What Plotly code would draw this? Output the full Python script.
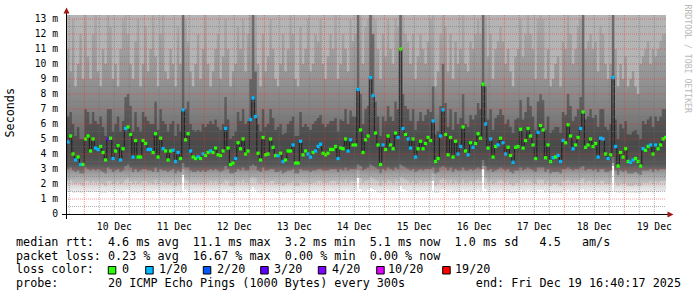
import pandas as pd
import plotly.graph_objects as go

# ---------------- data (hourly consolidated) ----------------
START = "2025-12-09 17:00"
X_RANGE = ["2025-12-09 16:40:17", "2025-12-19 16:40:17"]

median_ms = [
    4.8, 5.2, 4.0, 3.6, 3.8, 3.3, 3.3, 5.0, 5.2, 4.2,
    5.0, 4.4, 4.3, 4.5, 4.1, 3.6, 5.0, 5.05, 3.7, 4.2,
    4.55, 3.6, 4.35, 5.7, 5.8, 5.3, 3.8, 4.9, 3.8, 3.8,
    4.9, 4.7, 4.3, 4.3, 4.1, 5.35, 3.8, 5.05, 4.35, 4.2,
    3.6, 4.2, 4.25, 3.5, 4.1, 3.7, 6.95, 4.95, 5.35, 4.2,
    3.8, 3.7, 3.8, 3.7, 4.0, 3.9, 4.1, 4.2, 4.1, 4.4,
    3.95, 3.9, 4.2, 5.7, 4.4, 3.3, 3.4, 3.7, 4.75, 4.35,
    5.0, 4.0, 4.2, 6.3, 7.73, 6.5, 4.05, 3.6, 5.1, 3.95,
    4.0, 5.0, 4.45, 3.9, 3.9, 4.05, 3.5, 3.6, 4.2, 4.2,
    4.6, 3.4, 3.4, 4.85, 3.95, 4.2, 4.0, 3.8, 4.1, 4.2,
    4.5, 4.65, 4.05, 3.95, 4.05, 4.3, 4.3, 4.5, 3.7, 4.4,
    4.35, 5.0, 4.2, 4.95, 4.6, 4.6, 8.3, 5.6, 4.1, 4.95,
    5.2, 9.1, 7.9, 5.4, 4.6, 3.3, 4.6, 4.3, 5.2, 4.6,
    4.35, 5.4, 5.1, 11.0, 5.7, 5.3, 5.0, 4.4, 5.0, 3.8,
    4.35, 4.85, 4.35, 4.7, 5.1, 4.9, 6.2, 3.5, 3.7, 5.2,
    6.95, 5.3, 3.95, 5.1, 3.8, 4.85, 4.0, 4.5, 5.8, 4.2,
    3.95, 4.75, 4.45, 4.7, 5.35, 5.05, 8.65, 6.0, 4.4, 5.0,
    3.8, 4.5, 4.6, 5.05, 4.75, 4.0, 4.45, 3.9, 3.45, 4.45,
    4.5, 5.65, 4.4, 4.9, 5.7, 5.2, 4.6, 3.7, 5.45, 5.9,
    5.6, 3.75, 4.6, 3.5, 3.75, 3.8, 3.9, 3.5, 4.9, 4.75,
    5.95, 5.2, 4.35, 4.6, 5.1, 5.7, 6.8, 4.45, 4.6, 5.0,
    4.5, 4.7, 3.8, 5.05, 5.0, 4.0, 3.7, 3.95, 9.1, 4.5,
    3.2, 4.1, 3.8, 4.35, 3.5, 3.45, 3.6, 3.7, 3.5, 3.2,
    4.35, 4.25, 4.5, 4.6, 4.0, 4.6, 4.35, 4.6, 5.0, 5.1,
]

loss_of_20 = [
    1, 0, 0, 1, 0, 1, 0, 0, 0, 0, 0, 1, 1, 0, 0, 0, 3, 0, 1, 0,
    0, 1, 0, 1, 0, 0, 1, 0, 0, 0, 0, 0, 1, 1, 0, 0, 0, 0, 1, 0,
    0, 0, 1, 1, 1, 0, 1, 0, 0, 1, 0, 0, 1, 0, 1, 0, 0, 1, 0, 0,
    0, 0, 0, 1, 0, 0, 0, 1, 0, 0, 0, 0, 0, 1, 1, 1, 0, 0, 0, 0,
    0, 0, 0, 0, 1, 0, 1, 0, 0, 0, 1, 0, 0, 1, 0, 0, 1, 1, 0, 1,
    1, 1, 0, 0, 0, 0, 0, 0, 1, 0, 0, 0, 1, 1, 0, 0, 1, 0, 0, 0,
    0, 1, 1, 0, 0, 0, 1, 0, 0, 0, 0, 0, 1, 0, 1, 0, 1, 1, 0, 1,
    0, 0, 0, 0, 0, 0, 1, 0, 0, 1, 1, 0, 0, 0, 0, 0, 1, 1, 0, 0,
    1, 0, 1, 0, 0, 0, 0, 1, 0, 1, 0, 0, 1, 0, 1, 1, 0, 0, 1, 0,
    0, 0, 0, 0, 0, 0, 0, 0, 1, 0, 0, 0, 0, 0, 1, 0, 1, 1, 1, 0,
    0, 0, 1, 0, 0, 1, 0, 0, 0, 0, 0, 0, 1, 1, 1, 0, 1, 0, 1, 1,
    0, 0, 0, 0, 0, 1, 1, 0, 0, 0, 1, 0, 0, 1, 0, 1, 0, 0, 0, 0,
]

# smoke: per-hour ping distribution (ms)
ping_min_ms = [
    1.5, 1.55, 1.45, 1.4, 1.5, 1.45, 1.4, 1.55, 1.5, 1.5,
    1.55, 1.5, 1.5, 1.45, 1.45, 1.4, 1.55, 1.5, 1.45, 1.5,
    1.5, 1.45, 1.5, 1.6, 1.65, 1.55, 1.45, 1.5, 1.45, 1.5,
    1.55, 1.5, 1.5, 1.5, 1.45, 1.6, 1.45, 1.55, 1.5, 1.5,
    1.45, 1.5, 1.5, 1.4, 1.5, 1.45, 2.6, 1.6, 1.55, 1.5,
    1.45, 1.45, 1.5, 1.45, 1.5, 1.45, 1.5, 1.55, 1.5, 1.5,
    1.5, 1.45, 1.5, 1.6, 1.5, 1.4, 1.4, 1.45, 1.55, 1.5,
    1.55, 1.5, 1.5, 1.65, 1.8, 1.65, 1.5, 1.45, 1.55, 1.5,
    1.5, 1.55, 1.5, 1.45, 1.45, 1.5, 1.4, 1.45, 1.5, 1.5,
    1.55, 1.4, 1.4, 1.55, 1.5, 1.5, 1.5, 1.45, 1.5, 1.5,
    1.55, 1.55, 1.5, 1.5, 1.5, 1.5, 1.5, 1.55, 1.45, 1.5,
    1.5, 1.6, 1.5, 1.55, 1.5, 1.55, 2.4, 1.7, 1.5, 1.55,
    1.6, 1.75, 1.7, 1.6, 1.5, 1.4, 1.5, 1.5, 1.6, 1.5,
    1.5, 1.6, 1.55, 1.9, 1.7, 1.6, 1.55, 1.5, 1.55, 1.45,
    1.5, 1.55, 1.5, 1.55, 1.55, 1.55, 2.2, 1.4, 1.45, 1.6,
    1.7, 1.6, 1.5, 1.6, 1.45, 1.55, 1.5, 1.5, 1.6, 1.5,
    1.5, 1.55, 1.5, 1.55, 1.6, 1.55, 3.0, 1.7, 1.5, 1.55,
    1.45, 1.5, 1.55, 1.6, 1.55, 1.5, 1.55, 1.45, 1.4, 1.5,
    1.5, 1.6, 1.5, 1.55, 1.6, 1.55, 1.5, 1.45, 1.6, 1.6,
    1.6, 1.45, 1.55, 1.4, 1.45, 1.45, 1.45, 1.4, 1.55, 1.55,
    1.6, 1.55, 1.5, 1.55, 1.55, 1.6, 1.7, 1.5, 1.55, 1.55,
    1.5, 1.55, 1.45, 1.55, 1.55, 1.45, 1.45, 1.5, 3.2, 1.5,
    1.4, 1.5, 1.45, 1.5, 1.4, 1.4, 1.4, 1.45, 1.4, 1.4,
    1.5, 1.5, 1.5, 1.55, 1.45, 1.55, 1.5, 1.55, 1.55, 1.55,
]

ping_p10_ms = [
    2.2, 2.3, 2.1, 2.0, 2.1, 2.0, 1.9, 2.2, 2.2, 2.1,
    2.2, 2.1, 2.2, 2.1, 2.0, 1.9, 2.2, 2.2, 2.0, 2.1,
    2.2, 2.0, 2.1, 2.3, 2.4, 2.2, 2.0, 2.2, 2.0, 2.1,
    2.2, 2.2, 2.1, 2.1, 2.0, 2.3, 2.0, 2.2, 2.1, 2.1,
    2.0, 2.1, 2.2, 1.9, 2.1, 2.0, 3.0, 2.3, 2.2, 2.1,
    2.0, 2.0, 2.1, 2.0, 2.1, 2.0, 2.1, 2.2, 2.1, 2.2,
    2.1, 2.0, 2.1, 2.3, 2.2, 1.9, 1.9, 2.0, 2.2, 2.1,
    2.3, 2.1, 2.1, 2.4, 2.5, 2.4, 2.1, 2.0, 2.3, 2.1,
    2.1, 2.2, 2.2, 2.0, 2.0, 2.1, 1.9, 2.0, 2.1, 2.1,
    2.2, 1.9, 1.9, 2.2, 2.1, 2.1, 2.1, 2.0, 2.1, 2.1,
    2.2, 2.2, 2.1, 2.1, 2.1, 2.2, 2.2, 2.2, 2.0, 2.2,
    2.1, 2.3, 2.1, 2.2, 2.2, 2.2, 2.9, 2.4, 2.1, 2.2,
    2.3, 2.5, 2.4, 2.3, 2.2, 1.9, 2.2, 2.1, 2.3, 2.2,
    2.1, 2.3, 2.2, 2.5, 2.4, 2.3, 2.2, 2.1, 2.2, 2.0,
    2.1, 2.2, 2.1, 2.2, 2.2, 2.2, 2.7, 1.9, 2.0, 2.3,
    2.4, 2.3, 2.1, 2.3, 2.0, 2.2, 2.1, 2.1, 2.3, 2.1,
    2.1, 2.2, 2.1, 2.2, 2.3, 2.2, 3.2, 2.4, 2.1, 2.2,
    2.0, 2.1, 2.2, 2.3, 2.2, 2.1, 2.2, 2.0, 1.9, 2.1,
    2.1, 2.3, 2.1, 2.2, 2.3, 2.2, 2.1, 2.0, 2.3, 2.3,
    2.3, 2.0, 2.2, 1.9, 2.0, 2.0, 2.0, 1.9, 2.2, 2.2,
    2.3, 2.2, 2.1, 2.2, 2.2, 2.3, 2.4, 2.1, 2.2, 2.2,
    2.1, 2.2, 2.0, 2.2, 2.2, 2.0, 2.0, 2.1, 3.4, 2.1,
    1.9, 2.1, 2.0, 2.1, 1.9, 1.9, 1.9, 2.0, 1.9, 1.9,
    2.1, 2.1, 2.1, 2.2, 2.0, 2.2, 2.1, 2.2, 2.2, 2.2,
]

ping_p25_ms = [
    3.0, 3.1, 2.9, 2.8, 2.9, 2.7, 2.7, 3.1, 3.0, 2.9,
    3.0, 2.9, 3.0, 2.9, 2.8, 2.7, 3.1, 3.0, 2.8, 2.9,
    3.0, 2.8, 2.9, 3.2, 3.3, 3.1, 2.8, 3.0, 2.8, 2.9,
    3.0, 3.0, 2.9, 2.9, 2.8, 3.1, 2.8, 3.0, 2.9, 2.9,
    2.8, 2.9, 3.0, 2.7, 2.9, 2.8, 3.4, 3.1, 3.1, 2.9,
    2.8, 2.8, 2.9, 2.8, 2.9, 2.8, 2.9, 3.0, 2.9, 3.0,
    2.9, 2.8, 2.9, 3.2, 3.0, 2.7, 2.7, 2.8, 3.0, 2.9,
    3.1, 2.9, 2.9, 3.2, 3.3, 3.2, 2.9, 2.8, 3.1, 2.9,
    2.9, 3.0, 3.0, 2.8, 2.8, 2.9, 2.7, 2.8, 2.9, 2.9,
    3.0, 2.7, 2.7, 3.0, 2.9, 2.9, 2.9, 2.8, 2.9, 2.9,
    3.0, 3.0, 2.9, 2.9, 2.9, 3.0, 3.0, 3.0, 2.8, 3.0,
    2.9, 3.1, 2.9, 3.0, 3.0, 3.0, 3.3, 3.2, 2.9, 3.0,
    3.1, 3.3, 3.2, 3.1, 3.0, 2.7, 3.0, 2.9, 3.1, 3.0,
    2.9, 3.1, 3.0, 3.3, 3.2, 3.1, 3.0, 2.9, 3.0, 2.8,
    2.9, 3.0, 2.9, 3.0, 3.0, 3.0, 3.1, 2.7, 2.8, 3.1,
    3.2, 3.1, 2.9, 3.1, 2.8, 3.0, 2.9, 2.9, 3.1, 2.9,
    2.9, 3.0, 2.9, 3.0, 3.1, 3.0, 3.6, 3.2, 2.9, 3.0,
    2.8, 2.9, 3.0, 3.1, 3.0, 2.9, 3.0, 2.8, 2.7, 2.9,
    2.9, 3.1, 2.9, 3.0, 3.1, 3.0, 2.9, 2.8, 3.1, 3.1,
    3.1, 2.8, 3.0, 2.7, 2.8, 2.8, 2.8, 2.7, 3.0, 3.0,
    3.1, 3.0, 2.9, 3.0, 3.0, 3.1, 3.2, 2.9, 3.0, 3.0,
    2.9, 3.0, 2.8, 3.0, 3.0, 2.8, 2.8, 2.9, 3.8, 2.9,
    2.6, 2.9, 2.8, 2.9, 2.7, 2.7, 2.7, 2.8, 2.7, 2.6,
    2.9, 2.9, 2.9, 3.0, 2.8, 3.0, 2.9, 3.0, 3.0, 3.0,
]

ping_p75_ms = [
    6.5, 6.8, 6.0, 5.2, 5.8, 5.0, 5.0, 7.0, 6.8, 6.0,
    6.8, 6.2, 6.0, 6.5, 5.8, 5.2, 7.0, 7.0, 5.5, 6.0,
    6.5, 5.5, 6.2, 7.8, 8.0, 7.2, 5.5, 6.8, 5.8, 5.5,
    6.8, 6.5, 6.2, 6.0, 6.0, 7.5, 5.6, 7.0, 6.2, 6.0,
    5.5, 6.0, 6.2, 5.2, 6.0, 5.5, 14.0, 7.0, 7.5, 6.0,
    5.6, 5.5, 5.6, 5.5, 6.0, 5.8, 6.0, 6.2, 6.0, 6.3,
    5.8, 5.6, 6.0, 7.8, 6.3, 5.0, 5.2, 5.5, 6.8, 6.2,
    7.0, 6.0, 6.2, 9.0, 14.0, 9.5, 6.0, 5.5, 7.0, 5.8,
    6.0, 7.0, 6.4, 5.6, 5.8, 6.0, 5.3, 5.4, 6.0, 6.2,
    6.5, 5.2, 5.2, 6.8, 5.8, 6.0, 5.8, 5.6, 6.0, 6.2,
    6.4, 6.6, 6.0, 5.8, 6.0, 6.2, 6.2, 6.4, 5.5, 6.3,
    6.2, 7.0, 6.0, 6.9, 6.5, 6.5, 14.0, 8.0, 6.0, 7.0,
    7.2, 14.0, 12.0, 7.5, 6.5, 5.2, 6.5, 6.2, 7.2, 6.5,
    6.2, 7.5, 7.0, 14.0, 8.0, 7.2, 7.0, 6.2, 7.0, 5.6,
    6.2, 6.8, 6.2, 6.6, 7.0, 6.8, 8.5, 5.3, 5.5, 7.2,
    10.0, 7.4, 5.8, 7.0, 5.6, 6.8, 6.0, 6.4, 8.0, 6.0,
    5.8, 6.6, 6.3, 6.6, 7.4, 7.0, 14.0, 8.5, 6.3, 7.0,
    5.6, 6.4, 6.6, 7.0, 6.6, 6.0, 6.3, 5.8, 5.4, 6.3,
    6.4, 7.6, 6.3, 6.8, 7.8, 7.2, 6.5, 5.6, 7.5, 8.0,
    7.6, 5.6, 6.5, 5.4, 5.6, 5.8, 5.8, 5.4, 6.8, 6.6,
    8.0, 7.2, 6.2, 6.5, 7.0, 7.8, 14.0, 6.3, 6.5, 7.0,
    6.4, 6.6, 5.8, 7.0, 7.0, 5.8, 5.6, 6.0, 14.0, 6.3,
    5.0, 6.0, 5.7, 6.2, 5.3, 5.3, 5.5, 5.6, 5.3, 5.0,
    6.2, 6.0, 6.3, 6.5, 5.8, 6.5, 6.2, 6.5, 7.0, 7.0,
]

ping_p90_ms = [
    11, 9.5, 13, 8.5, 10, 12, 9, 14, 10.5, 9,
    12, 13.5, 9.5, 8.5, 11, 10, 14, 12.5, 9, 10,
    8.5, 11, 13, 15, 12, 10, 9, 11.5, 13, 8.5,
    10, 12.5, 9.5, 11, 14, 10.5, 8.5, 12, 13.5, 9.5,
    9, 11, 10, 8.5, 12.5, 10, 16, 13, 11.5, 9.5,
    8.5, 10, 12, 9, 11, 13.5, 10, 8.5, 9.5, 11,
    12, 9, 10.5, 13, 11, 8.5, 9.5, 10, 12.5, 11,
    13, 9.5, 12, 15, 16, 15, 10, 8.5, 12, 9.5,
    10.5, 13, 11, 9, 8.5, 10, 12, 9.5, 11, 13.5,
    12, 9, 8.5, 12.5, 10, 11, 13, 9.5, 10, 12,
    11.5, 13, 10, 9, 10.5, 12, 11, 13.5, 9, 10,
    12, 11, 9.5, 13, 11.5, 12, 16, 14, 10, 12.5,
    13, 16, 16, 13, 11, 9, 12, 10.5, 13, 11,
    10, 13, 12.5, 16, 14, 12, 11.5, 10, 12, 9,
    10.5, 12, 11, 10, 11.5, 13, 14, 8.5, 9.5, 12,
    15, 12.5, 9.5, 12, 9, 11.5, 10, 11, 13.5, 10,
    9.5, 11.5, 11, 12, 13, 12, 16, 14, 10.5, 12,
    9, 11, 11.5, 12.5, 11.5, 10, 11, 9.5, 8.5, 10.5,
    11, 13, 10.5, 12, 13.5, 12, 11, 9, 13, 13.5,
    13, 9, 11, 8.5, 9, 10, 10.5, 8.5, 11.5, 11,
    13.5, 12, 10, 11, 12.5, 13, 16, 11, 11.5, 12,
    11, 11.5, 9.5, 12.5, 12, 10, 9, 10, 16, 11,
    8.5, 10, 9, 10.5, 8.5, 9, 9.5, 8.5, 8, 10,
    10.5, 11, 11.5, 10, 11, 10.5, 11, 11.5, 12, 12,
]

y_tick_ms = [0, 1, 2, 3, 4, 5, 6, 7, 8, 9, 10, 11, 12, 13]
y_tick_text = ["0", "1 m", "2 m", "3 m", "4 m", "5 m", "6 m", "7 m", "8 m",
               "9 m", "10 m", "11 m", "12 m", "13 m"]

loss_colors = {0: "#26ff00", 1: "#00b8ff", 2: "#0059ff", 3: "#5e00ff",
               4: "#7e00ff", 10: "#dd00ff", 19: "#ff0000"}
legend_loss_keys = [0, 1, 2, 3, 4, 10, 19]
legend_loss_labels = ["0", "1/20", "2/20", "3/20", "4/20", "10/20", "19/20"]

line_median = "median rtt:  4.6 ms avg  11.1 ms max  3.2 ms min  5.1 ms now  1.0 ms sd   4.5   am/s"
line_loss = "packet loss: 0.23 % avg  16.67 % max  0.00 % min  0.00 % now"
line_probe = "probe:       20 ICMP Echo Pings (1000 Bytes) every 300s          end: Fri Dec 19 16:40:17 2025"

# ---------------- layout geometry (pixels) ----------------
W, H = 697, 297
PL, PR, PT, PB = 66, 666, 15, 214   # plot box in pixels
MONO = "DejaVu Sans Mono"


def ax(px):
    return (px - PL) / (PR - PL)


def ay(py):
    return (PB - py) / (PB - PT)


def nb(s):
    return s.replace(" ", "\u00a0")


n = len(median_ms)
edges = pd.date_range(START, periods=n + 1, freq="h")
centers = edges[:-1] + pd.Timedelta(minutes=30)


def step(v):
    return list(v) + [v[-1]]


fig = go.Figure()
common = dict(mode="lines", hoverinfo="skip", showlegend=False)

fig.add_trace(go.Scatter(x=edges, y=step(ping_min_ms), line=dict(width=0, shape="hv"),
                         fill="tozeroy", fillcolor="white", **common))
fig.add_trace(go.Scatter(x=edges, y=step(ping_p10_ms), line=dict(width=0, shape="hv"),
                         fill="tonexty",
                         fillgradient=dict(type="vertical", start=1.4, stop=2.8,
                                           colorscale=[[0, "#f2f2f2"], [0.3, "#dcdcdc"],
                                                       [0.65, "#c2c2c2"], [1, "#a8a8a8"]]),
                         **common))
fig.add_trace(go.Scatter(x=edges, y=step(ping_p90_ms), line=dict(width=0, shape="hv"),
                         fill="tonexty",
                         fillgradient=dict(type="vertical", start=2.0, stop=13.0,
                                           colorscale=[[0, "#c2c2c2"], [0.055, "#a4a4a4"],
                                                       [0.11, "#7e7e7e"], [0.2, "#666666"],
                                                       [0.32, "#707070"], [0.45, "#828282"],
                                                       [0.64, "#949494"], [1, "#a8a8a8"]]),
                         **common))
fig.add_trace(go.Scatter(x=edges, y=step(ping_p25_ms), line=dict(width=0, shape="hv"), **common))
fig.add_trace(go.Scatter(x=edges, y=step(ping_p75_ms), line=dict(width=0, shape="hv"),
                         fill="tonexty",
                         fillgradient=dict(type="vertical", start=2.7, stop=13.0,
                                           colorscale=[[0, "#7a7a7a"], [0.058, "#575757"],
                                                       [0.175, "#494949"], [0.32, "#525252"],
                                                       [0.515, "#626262"], [1, "#6c6c6c"]]),
                         **common))
fig.add_trace(go.Scatter(x=edges, y=step(median_ms), line=dict(width=1, color="#1c1c1c", shape="hv"),
                         **common))
fig.add_trace(go.Scatter(x=centers, y=median_ms, mode="markers", hoverinfo="skip", showlegend=False,
                         marker=dict(symbol="square", size=3.3,
                                     color=[loss_colors[v] for v in loss_of_20],
                                     line=dict(width=0))))

# grid (drawn above the smoke, like rrdtool)
shapes = []
GRID_MINOR = "rgba(110,110,110,0.5)"
GRID_MAJOR = "rgba(255,40,40,0.5)"
for t in pd.date_range("2025-12-09 18:00", "2025-12-19 12:00", freq="6h"):
    if t.hour == 0:
        continue
    shapes.append(dict(type="line", xref="x", yref="paper", x0=t, x1=t, y0=0, y1=1,
                       layer="above", line=dict(color=GRID_MINOR, width=1, dash="1px,1px")))
for t in pd.date_range("2025-12-10", "2025-12-19", freq="D"):
    shapes.append(dict(type="line", xref="x", yref="paper", x0=t, x1=t, y0=0, y1=1,
                       layer="above", line=dict(color=GRID_MAJOR, width=1, dash="1px,1px")))
for k in range(1, 27):
    v = k / 2
    c = GRID_MINOR if v != int(v) else GRID_MAJOR
    shapes.append(dict(type="line", xref="paper", yref="y", x0=0, x1=1, y0=v, y1=v,
                       layer="above", line=dict(color=c, width=1, dash="1px,1px")))

# axis lines with arrows
shapes.append(dict(type="line", xref="paper", yref="paper", x0=ax(62), x1=ax(668),
                   y0=ay(214.5), y1=ay(214.5), layer="above", line=dict(color="black", width=1)))
shapes.append(dict(type="line", xref="paper", yref="paper", x0=ax(66.5), x1=ax(66.5),
                   y0=ay(219), y1=ay(11), layer="above", line=dict(color="black", width=1)))
arrow_col = "#a01818"
shapes.append(dict(type="path", xref="paper", yref="paper", layer="above",
                   path=f"M {ax(63.5)},{ay(13.5)} L {ax(66.5)},{ay(7.5)} L {ax(69.5)},{ay(13.5)} Z",
                   fillcolor=arrow_col, line=dict(width=0)))
shapes.append(dict(type="path", xref="paper", yref="paper", layer="above",
                   path=f"M {ax(667.5)},{ay(211.5)} L {ax(673.5)},{ay(214.5)} L {ax(667.5)},{ay(217.5)} Z",
                   fillcolor=arrow_col, line=dict(width=0)))

# loss colour boxes of the legend
box_left_px = [108.3, 145.7, 203.3, 260.7, 318.3, 376.7, 442.7]
label_left_px = [121.7, 159.0, 216.7, 274.3, 332.0, 388.3, 455.0]
for bx, key in zip(box_left_px, legend_loss_keys):
    shapes.append(dict(type="rect", xref="paper", yref="paper", layer="above",
                       x0=ax(bx), x1=ax(bx + 7.5), y0=ay(274), y1=ay(266.5),
                       fillcolor=loss_colors[key], line=dict(color="black", width=1)))

LF = 11.75
annotations = []


def text(px, py, s, size=LF, anchor="left", color="black", angle=0):
    annotations.append(dict(xref="paper", yref="paper", x=ax(px), y=ay(py), text=nb(s),
                            showarrow=False, xanchor=anchor, yanchor="middle", textangle=angle,
                            font=dict(family=MONO, size=size, color=color), borderpad=0))


text(15, 241.5, line_median)
text(15, 255.5, line_loss)
text(15, 269.2, "loss color:")
for lx, lab in zip(label_left_px, legend_loss_labels):
    text(lx - 1, 269.2, lab)
text(15, 283.2, line_probe)
text(10, 112.5, "Seconds", angle=-90, anchor="center")
text(687.5, 59, "RRDTOOL / TOBI OETIKER", size=8.2, anchor="center", color="#b8b8b8", angle=90)

fig.update_layout(
    width=W, height=H,
    margin=dict(l=PL, r=W - PR, t=PT, b=H - PB, pad=0),
    paper_bgcolor="white", plot_bgcolor="#b4b4b4",
    showlegend=False,
    shapes=shapes, annotations=annotations,
    xaxis=dict(type="date", range=X_RANGE, tick0="2025-12-10", dtick=86400000,
               tickformat="%d %b", ticklabelmode="period", showgrid=False, zeroline=False,
               showline=False, ticks="outside", ticklen=3, tickcolor="rgba(0,0,0,0)",
               tickfont=dict(family=MONO, size=9.7, color="black"), fixedrange=True),
    yaxis=dict(range=[0, (PB - PT) / 15], tickvals=y_tick_ms, ticktext=y_tick_text,
               showgrid=False, zeroline=False, showline=False,
               ticks="outside", ticklen=5, tickcolor="rgba(0,0,0,0)",
               tickfont=dict(family=MONO, size=9.7, color="black"), fixedrange=True),
)

fig.write_html("out.html")
